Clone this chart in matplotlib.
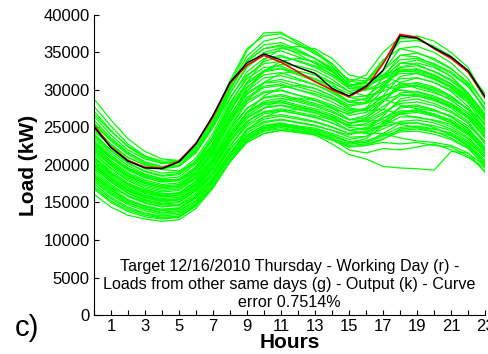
import matplotlib
matplotlib.use("Agg")
import matplotlib.pyplot as plt
import numpy as np

plt.rcParams["font.family"] = ["Liberation Sans", "DejaVu Sans"]

HOURS = list(range(24))

# Target day (red) and model output (black), kW
TARGET_LOAD = [25300, 22400, 20600, 19700, 19600, 20500, 22900, 26400, 30900, 33300,
               34600, 33700, 32400, 31100, 30000, 29100, 30300, 33500, 37400, 37000,
               35500, 34200, 32400, 29000]
OUTPUT_LOAD = [25100, 22300, 20500, 19600, 19500, 20400, 22800, 26600, 31000, 33600,
               34800, 34000, 33000, 32200, 30200, 29200, 30500, 32600, 37200, 36900,
               35600, 34400, 32600, 29100]

# Loads from other same weekdays, thousands of kW
OTHER_DAYS = [
    [28.8, 26.0, 23.5, 21.8, 20.8, 20.6, 22.0, 25.5, 30.5, 34.5, 36.5, 37.0, 36.0, 34.8, 33.5, 31.0, 32.0, 35.0, 37.0, 36.8, 35.8, 34.5, 32.5, 29.5],
    [27.8, 25.2, 22.8, 21.2, 20.3, 20.4, 22.3, 25.8, 30.8, 35.2, 37.6, 37.7, 36.2, 35.0, 33.2, 30.5, 31.2, 34.0, 35.5, 35.0, 34.0, 32.8, 31.0, 28.2],
    [26.5, 24.0, 22.0, 20.8, 20.2, 20.6, 22.5, 26.0, 30.2, 33.8, 35.5, 35.8, 34.8, 33.5, 32.0, 30.5, 31.0, 33.5, 36.8, 37.2, 36.5, 35.0, 33.0, 29.0],
    [25.0, 22.8, 21.0, 20.0, 19.5, 19.8, 21.8, 25.0, 29.0, 32.0, 33.5, 33.8, 33.0, 32.2, 31.0, 29.8, 30.2, 32.0, 34.0, 34.2, 33.5, 32.4, 30.6, 27.5],
    [24.2, 22.0, 20.3, 19.2, 18.6, 18.9, 20.6, 23.8, 28.3, 31.5, 33.0, 33.2, 32.2, 31.4, 30.3, 29.0, 29.2, 30.8, 32.6, 32.8, 32.0, 30.8, 29.0, 26.0],
    [23.5, 21.3, 19.6, 18.5, 17.9, 18.1, 19.8, 23.0, 27.5, 30.8, 32.4, 32.8, 32.0, 31.2, 30.0, 28.5, 28.8, 30.2, 31.5, 31.6, 31.0, 30.0, 28.3, 25.4],
    [23.0, 20.9, 19.3, 18.3, 17.8, 18.0, 19.6, 22.5, 26.6, 29.6, 31.0, 31.4, 30.8, 30.2, 29.2, 28.0, 28.4, 30.5, 32.5, 32.8, 32.0, 30.8, 28.8, 25.8],
    [22.5, 20.4, 18.8, 17.8, 17.2, 17.4, 19.0, 22.0, 26.0, 29.0, 30.5, 30.8, 30.0, 29.3, 28.4, 27.2, 27.5, 29.0, 30.5, 30.6, 30.0, 29.0, 27.4, 24.6],
    [22.0, 19.9, 18.3, 17.3, 16.8, 17.0, 18.6, 21.6, 25.6, 28.5, 29.8, 30.0, 29.3, 28.6, 27.8, 26.6, 27.0, 28.6, 30.3, 30.5, 29.8, 28.6, 27.0, 24.2],
    [21.5, 19.5, 17.9, 16.9, 16.4, 16.6, 18.2, 21.0, 24.8, 27.6, 28.9, 29.2, 28.6, 28.0, 27.2, 26.0, 26.3, 27.8, 29.2, 29.4, 28.8, 27.8, 26.2, 23.6],
    [21.0, 19.0, 17.4, 16.5, 16.0, 16.2, 17.8, 20.6, 24.2, 27.0, 28.3, 28.6, 28.0, 27.5, 26.7, 25.6, 25.8, 27.0, 28.2, 28.4, 27.9, 27.0, 25.6, 23.0],
    [20.6, 18.6, 17.1, 16.2, 15.7, 15.9, 17.4, 20.2, 23.8, 26.4, 27.6, 27.9, 27.4, 26.9, 26.2, 25.2, 25.5, 26.8, 28.5, 28.8, 28.2, 27.2, 25.6, 22.8],
    [20.2, 18.2, 16.7, 15.8, 15.3, 15.5, 17.0, 19.7, 23.2, 25.8, 27.0, 27.3, 26.8, 26.3, 25.6, 24.6, 24.8, 25.8, 27.0, 27.2, 26.8, 26.0, 24.6, 22.2],
    [19.8, 17.8, 16.3, 15.4, 14.9, 15.1, 16.6, 19.2, 22.6, 25.2, 26.4, 26.7, 26.3, 25.8, 25.1, 24.2, 24.4, 25.5, 26.8, 27.0, 26.5, 25.6, 24.2, 21.8],
    [19.3, 17.4, 15.9, 15.0, 14.5, 14.7, 16.2, 18.8, 22.1, 24.6, 25.8, 26.1, 25.7, 25.3, 24.6, 23.7, 23.8, 24.8, 25.8, 26.0, 25.6, 24.8, 23.5, 21.2],
    [18.8, 16.9, 15.4, 14.6, 14.1, 14.3, 15.8, 18.3, 21.6, 24.0, 25.2, 25.5, 25.1, 24.7, 24.0, 23.1, 23.2, 24.0, 25.0, 25.2, 24.8, 24.1, 22.8, 20.6],
    [18.2, 16.4, 15.0, 14.2, 13.7, 13.9, 15.3, 17.8, 21.0, 23.4, 24.6, 25.0, 24.6, 24.2, 23.5, 22.6, 22.8, 23.5, 24.4, 24.5, 24.1, 23.4, 22.2, 20.0],
    [17.5, 15.7, 14.4, 13.6, 13.2, 13.4, 14.8, 17.3, 20.6, 23.0, 24.2, 24.6, 24.3, 24.0, 23.3, 22.4, 22.6, 23.4, 24.8, 25.0, 24.5, 23.6, 22.3, 19.8],
    [16.8, 15.0, 13.8, 13.1, 12.8, 13.0, 14.5, 17.0, 20.4, 23.2, 24.5, 24.8, 24.5, 24.2, 23.5, 22.8, 23.0, 24.2, 25.5, 25.6, 25.0, 24.0, 22.5, 20.2],
    [16.1, 14.4, 13.3, 12.8, 12.5, 12.7, 14.2, 16.9, 20.5, 23.5, 24.8, 25.2, 24.8, 24.4, 23.6, 22.4, 22.6, 23.0, 22.8, 23.0, 22.6, 22.4, 21.2, 19.2],
    [24.5, 22.6, 21.0, 20.0, 19.4, 19.2, 20.2, 22.8, 27.0, 31.0, 34.0, 35.5, 35.8, 35.5, 34.2, 32.0, 31.5, 31.8, 31.0, 30.2, 29.6, 28.8, 27.5, 25.5],
    [22.8, 21.0, 19.6, 18.7, 18.1, 18.0, 19.0, 21.6, 25.8, 29.8, 32.5, 33.8, 34.2, 33.8, 32.5, 30.5, 30.0, 30.5, 30.0, 29.4, 28.8, 28.0, 26.5, 24.4],
    [21.8, 20.0, 18.6, 17.7, 17.2, 17.1, 18.2, 20.8, 24.8, 28.5, 31.0, 32.2, 32.5, 32.0, 30.8, 29.0, 28.6, 28.8, 28.0, 27.5, 27.2, 26.6, 25.2, 23.2],
    [20.5, 18.8, 17.5, 16.7, 16.2, 16.2, 17.3, 19.8, 23.6, 27.0, 29.2, 30.3, 30.6, 30.2, 29.2, 27.6, 27.2, 27.4, 26.8, 26.3, 26.0, 25.4, 24.0, 22.0],
    [19.5, 17.9, 16.7, 15.9, 15.4, 15.4, 16.5, 18.8, 22.4, 25.6, 27.6, 28.6, 28.9, 28.6, 27.6, 26.1, 25.8, 26.0, 25.4, 25.0, 24.8, 24.3, 23.0, 21.0],
    [18.6, 17.0, 15.9, 15.2, 14.7, 14.7, 15.7, 18.0, 21.5, 24.6, 26.4, 27.2, 27.4, 27.0, 26.0, 24.6, 24.2, 24.2, 23.6, 23.2, 23.0, 22.6, 21.6, 19.8],
    [26.8, 24.5, 22.5, 21.2, 20.5, 20.6, 22.4, 26.2, 31.2, 35.5, 37.2, 37.5, 36.5, 35.2, 33.5, 31.2, 30.8, 31.5, 32.5, 32.4, 31.6, 30.5, 28.8, 26.2],
    [25.6, 23.4, 21.6, 20.4, 19.8, 20.0, 21.8, 25.2, 30.0, 33.8, 35.5, 36.0, 35.2, 34.2, 32.8, 30.8, 30.6, 31.5, 33.0, 33.2, 32.5, 31.4, 29.6, 26.8],
    [21.2, 19.2, 17.6, 16.6, 16.1, 16.3, 17.9, 20.7, 24.5, 27.5, 29.0, 29.4, 28.8, 28.2, 27.5, 26.8, 27.6, 30.0, 33.0, 33.6, 33.0, 31.8, 29.6, 26.2],
    [19.9, 18.0, 16.5, 15.6, 15.1, 15.3, 16.8, 19.5, 23.0, 25.8, 27.1, 27.5, 27.0, 26.6, 26.0, 25.4, 26.2, 28.4, 31.0, 31.6, 31.0, 29.8, 27.8, 24.8],
    [18.5, 16.7, 15.3, 14.5, 14.0, 14.2, 15.6, 18.2, 21.6, 24.3, 25.6, 26.0, 25.6, 25.2, 24.6, 24.0, 24.6, 26.5, 28.8, 29.2, 28.6, 27.6, 25.8, 23.0],
    [17.2, 15.5, 14.2, 13.5, 13.0, 13.2, 14.7, 17.2, 20.6, 23.4, 24.8, 25.2, 24.8, 24.4, 23.8, 23.0, 23.5, 25.2, 27.0, 27.4, 26.8, 25.8, 24.2, 21.6],
    [17.0, 15.2, 14.0, 13.3, 12.9, 13.1, 14.6, 17.1, 20.4, 23.0, 24.2, 24.6, 24.4, 24.0, 22.8, 21.4, 20.8, 19.8, 19.6, 19.5, 19.3, 21.8, 21.6, 19.0],
    [18.0, 16.2, 14.9, 14.1, 13.6, 13.8, 15.2, 17.8, 21.2, 23.8, 25.0, 25.3, 25.0, 24.6, 23.5, 22.0, 21.6, 22.2, 22.0, 22.4, 22.8, 22.0, 21.0, 19.6],
    [23.8, 21.6, 19.9, 18.8, 18.2, 18.4, 20.2, 23.4, 27.8, 31.0, 32.6, 32.9, 32.2, 31.5, 30.5, 29.5, 30.0, 32.5, 35.5, 35.8, 35.0, 33.6, 31.5, 28.0],
    [22.2, 20.1, 18.5, 17.5, 17.0, 17.2, 18.8, 21.8, 25.8, 28.8, 30.3, 30.6, 30.0, 29.5, 28.8, 27.8, 28.2, 30.4, 33.5, 34.0, 33.2, 31.8, 29.6, 26.4],
    [20.8, 18.9, 17.4, 16.4, 15.9, 16.0, 17.5, 20.3, 24.0, 27.0, 28.5, 28.9, 28.4, 27.8, 27.0, 26.0, 26.6, 28.4, 30.6, 31.0, 30.4, 29.2, 27.4, 24.4],
    [19.6, 17.7, 16.2, 15.3, 14.8, 15.0, 16.5, 19.1, 22.6, 25.4, 26.8, 27.2, 26.8, 26.4, 25.6, 24.6, 25.0, 26.2, 27.6, 27.8, 27.3, 26.4, 24.9, 22.4],
    [24.8, 22.5, 20.7, 19.5, 18.9, 19.1, 20.9, 24.2, 28.8, 32.4, 34.2, 34.6, 33.8, 33.0, 31.8, 30.2, 30.0, 31.0, 32.2, 32.2, 31.4, 30.3, 28.6, 25.8],
    [26.0, 23.6, 21.7, 20.4, 19.7, 19.9, 21.7, 25.0, 29.6, 33.0, 34.8, 35.2, 34.4, 33.6, 32.4, 30.6, 31.0, 33.8, 36.4, 36.6, 35.8, 34.4, 32.4, 28.8],
    [27.2, 24.6, 22.4, 21.0, 20.2, 20.3, 21.9, 25.4, 30.1, 34.0, 36.0, 36.3, 35.4, 34.2, 32.6, 30.2, 30.4, 32.6, 34.6, 34.4, 33.4, 32.2, 30.4, 27.6],
    [24.0, 21.9, 20.2, 19.1, 18.5, 18.7, 20.4, 23.6, 28.0, 31.8, 33.8, 34.4, 33.9, 33.2, 32.1, 30.6, 30.4, 31.6, 33.6, 33.4, 32.4, 31.2, 29.4, 26.4],
    [23.2, 21.1, 19.4, 18.3, 17.7, 17.9, 19.6, 22.8, 27.2, 30.4, 32.0, 32.3, 31.5, 30.7, 29.6, 28.3, 28.9, 31.6, 34.6, 34.9, 34.2, 32.9, 30.8, 27.2],
    [22.4, 20.3, 18.6, 17.6, 17.0, 17.2, 18.9, 22.0, 26.2, 29.4, 30.9, 31.1, 30.4, 29.8, 28.9, 27.4, 27.4, 28.6, 29.4, 29.2, 28.6, 27.8, 26.4, 23.8],
    [21.6, 19.6, 18.1, 17.1, 16.6, 16.8, 18.4, 21.3, 25.2, 28.2, 29.6, 29.9, 29.3, 28.8, 28.0, 27.0, 27.3, 29.2, 31.8, 32.2, 31.5, 30.3, 28.3, 25.2],
    [20.9, 18.9, 17.3, 16.3, 15.8, 16.0, 17.6, 20.4, 24.1, 26.9, 28.2, 28.4, 27.8, 27.2, 26.4, 25.2, 25.3, 26.2, 27.2, 27.2, 26.6, 25.8, 24.4, 22.0],
    [20.0, 18.1, 16.6, 15.7, 15.2, 15.4, 16.9, 19.6, 23.3, 26.2, 27.6, 28.0, 27.6, 27.2, 26.5, 25.6, 26.0, 27.4, 29.6, 29.8, 29.2, 28.2, 26.4, 23.6],
    [19.0, 17.2, 15.8, 14.9, 14.4, 14.6, 16.0, 18.6, 22.0, 24.8, 26.1, 26.5, 26.1, 25.7, 25.0, 24.2, 24.3, 25.2, 26.4, 26.4, 25.9, 25.1, 23.7, 21.4],
    [18.4, 16.6, 15.2, 14.4, 13.9, 14.1, 15.6, 18.1, 21.4, 24.0, 25.3, 25.6, 25.2, 24.9, 24.2, 23.4, 23.8, 25.6, 27.8, 28.0, 27.4, 26.4, 24.8, 22.2],
    [25.4, 23.2, 21.4, 20.2, 19.6, 19.8, 21.6, 25.0, 29.5, 33.2, 35.0, 35.6, 35.0, 34.2, 33.0, 31.4, 31.2, 32.0, 32.8, 32.6, 31.8, 30.8, 29.2, 26.6],
    [23.0, 21.0, 19.5, 18.5, 18.0, 18.1, 19.4, 22.2, 26.4, 30.2, 32.6, 33.4, 33.2, 32.6, 31.4, 29.8, 29.2, 29.8, 30.8, 30.8, 30.2, 29.2, 27.4, 24.6],
    [20.3, 18.4, 16.9, 16.0, 15.5, 15.7, 17.2, 19.9, 23.6, 26.6, 28.0, 28.3, 27.8, 27.3, 26.4, 25.0, 24.8, 25.2, 25.6, 25.6, 25.2, 24.6, 23.2, 21.0],
    [17.8, 16.0, 14.7, 13.9, 13.4, 13.6, 15.0, 17.6, 21.0, 23.7, 25.0, 25.4, 25.0, 24.7, 24.0, 23.0, 23.0, 23.8, 24.6, 24.8, 24.4, 23.9, 22.6, 20.4],
    [22.7, 20.6, 19.0, 18.0, 17.4, 17.6, 19.3, 22.4, 26.6, 29.9, 31.6, 31.9, 31.3, 30.7, 29.8, 28.4, 28.2, 29.2, 30.0, 29.7, 29.0, 28.2, 26.8, 24.0],
]

ANNOTATION = ("Target 12/16/2010 Thursday - Working Day (r) -\n"
              "Loads from other same days (g) - Output (k) - Curve\n"
              "error 0.7514%")

fig = plt.figure(figsize=(4.89, 3.54), dpi=100)
ax = fig.add_axes([0.192, 0.110, 0.8, 0.848])

for day in OTHER_DAYS:
    ax.plot(HOURS, np.array(day) * 1000, color="#00ff00", linewidth=0.9)
ax.plot(HOURS, TARGET_LOAD, color="red", linewidth=1.2)
ax.plot(HOURS, OUTPUT_LOAD, color="black", linewidth=1.0)

ax.set_xlim(0, 23)
ax.set_ylim(0, 40000)
ax.set_xticks(range(24))
ax.set_xticklabels([str(h) if h % 2 else "" for h in range(24)])
ax.set_yticks(range(0, 40001, 5000))
ax.tick_params(direction="in", length=3.5, width=0.8, labelsize=12, pad=3)
for side in ("top", "right"):
    ax.spines[side].set_visible(False)

ax.set_xlabel("Hours", fontsize=15, fontweight="bold", labelpad=-1)
ax.set_ylabel("Load (kW)", fontsize=15, fontweight="bold", labelpad=4)

ax.text(11.5, 700, ANNOTATION, ha="center", va="bottom", fontsize=11.6,
        linespacing=1.25, multialignment="center")
fig.text(0.03, 0.05, "c)", fontsize=21)

fig.savefig("out.png", dpi=100)
